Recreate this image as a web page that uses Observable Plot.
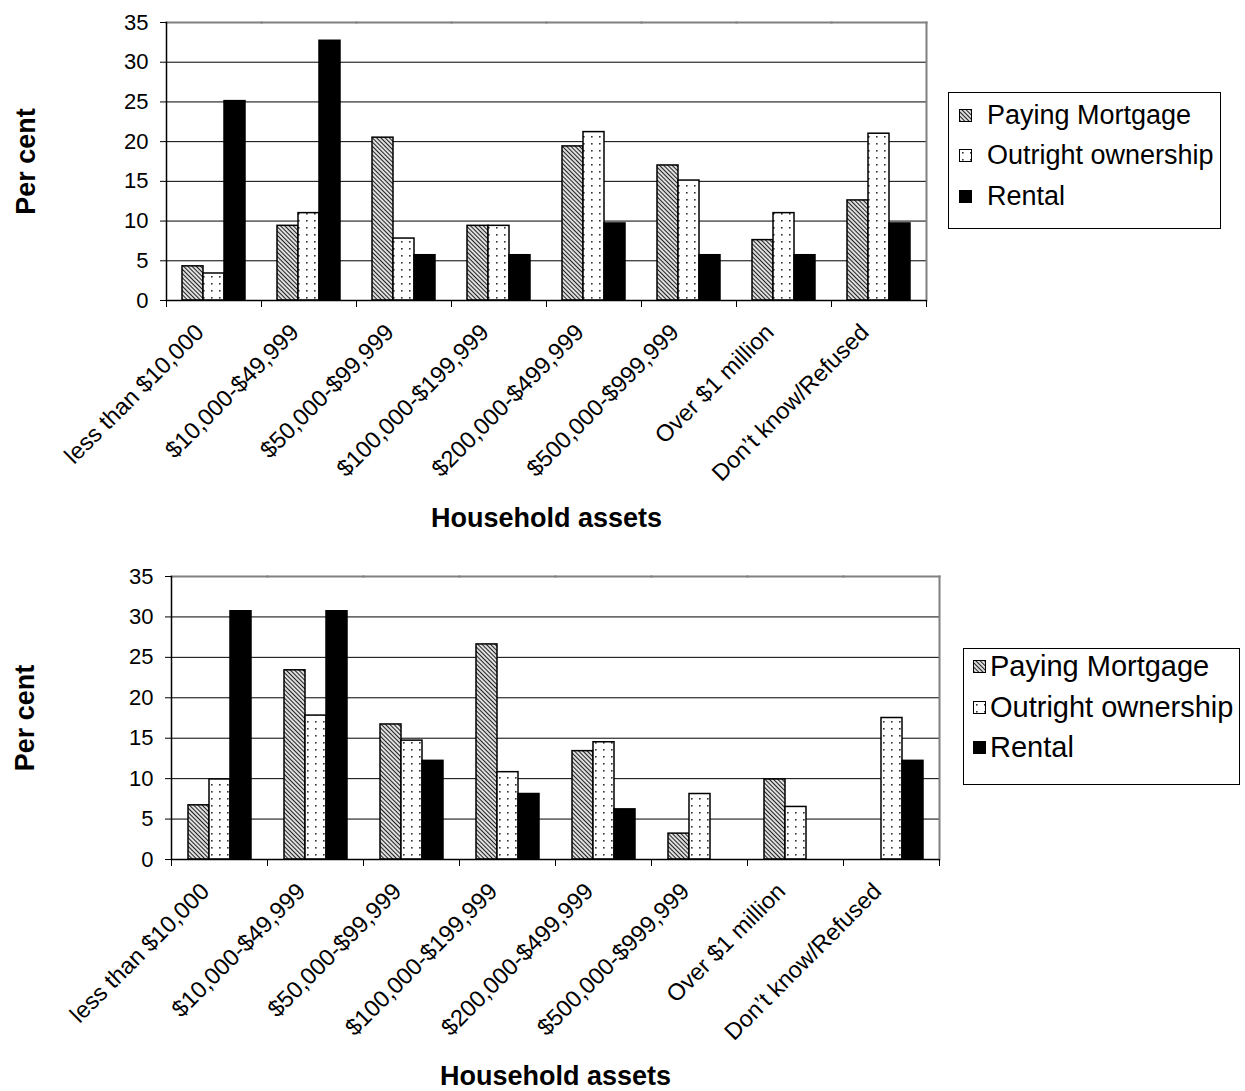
<!DOCTYPE html>
<html><head><meta charset="utf-8">
<script src="https://cdn.jsdelivr.net/npm/d3@7"></script>
<script src="https://cdn.jsdelivr.net/npm/@observablehq/plot@0.6"></script>
<style>
body{margin:0;background:#fff;font-family:'Liberation Sans',Arial,sans-serif;}
#wrap{position:relative;width:1245px;height:1091px;overflow:hidden;}
#wrap > div.chart{display:block;line-height:0}
#wrap svg{display:block}
g[aria-label="y-axis label"], g[aria-label="fx-axis label"]{font-size:27px;font-weight:bold;}
.legend{position:absolute;border:1px solid #000;background:#fff;box-sizing:border-box}
.legend .row{position:absolute;display:flex;align-items:center;white-space:nowrap;color:#000;height:40px}
.legend .row svg{display:block;flex:none}
</style></head>
<body>
<svg width="0" height="0" style="position:absolute">
  <defs>
    <pattern id="hatch" patternUnits="userSpaceOnUse" width="8" height="3" patternTransform="rotate(45)">
      <rect width="8" height="3" fill="#fff"/>
      <line x1="0" y1="1.5" x2="8" y2="1.5" stroke="#222" stroke-width="1.3"/>
    </pattern>
    <pattern id="dots" patternUnits="userSpaceOnUse" width="8" height="7">
      <rect width="8" height="7" fill="#fff"/>
      <rect x="3" y="3" width="1.6" height="1.6" fill="#333"/>
    </pattern>
  </defs>
</svg>
<div id="wrap"></div>
<script>
const categories = ["less than $10,000","$10,000-$49,999","$50,000-$99,999","$100,000-$199,999","$200,000-$499,999","$500,000-$999,999","Over $1 million","Don\u2019t know/Refused"];
const series = ["Paying Mortgage","Outright ownership","Rental"];
const yTicks = [0,5,10,15,20,25,30,35];

const topMortgage = [4.3, 9.4, 20.5, 9.4, 19.4, 17.0, 7.6, 12.6];
const topOutright = [3.4, 11.0, 7.8, 9.4, 21.2, 15.1, 11.0, 21.0];
const topRental   = [25.1, 32.7, 5.7, 5.7, 9.7, 5.7, 5.7, 9.7];

const botMortgage = [6.7, 23.4, 16.7, 26.6, 13.4, 3.2, 9.9, 0];
const botOutright = [9.9, 17.8, 14.7, 10.8, 14.5, 8.1, 6.5, 17.5];
const botRental   = [30.7, 30.7, 12.2, 8.1, 6.2, 0, 0, 12.2];

const fills = ["url(#hatch)", "url(#dots)", "#000"];

function toLong(m, o, r) {
  const out = [];
  categories.forEach((c, i) => {
    [m, o, r].forEach((arr, j) => {
      if (arr[i] > 0) out.push({cat: c, series: series[j], value: arr[i]});
    });
  });
  return out;
}

function chart({data, width, height, mt, mb, ml, mr, yLabelOffset, xLabelOffset}) {
  const ph = height - mt - mb;
  return Plot.plot({
    width, height, marginTop: mt, marginBottom: mb, marginLeft: ml, marginRight: mr,
    style: {fontFamily: "'Liberation Sans', Arial, sans-serif", fontSize: "22px", color: "#000", background: "transparent"},
    fx: {domain: categories, padding: 0},
    x: {domain: series, paddingInner: 0, paddingOuter: 0.75, axis: null},
    y: {domain: [0, 35]},
    color: {domain: series, range: fills},
    marks: [
      Plot.ruleY(yTicks.filter(t => t > 0 && t < 35), {stroke: "#000", strokeWidth: 1}),
      Plot.frame({anchor: "top", stroke: "#808080", strokeWidth: 2}),
      Plot.frame({anchor: "right", facetAnchor: "right", stroke: "#808080", strokeWidth: 2}),
      Plot.barY(data, {fx: "cat", x: "series", y: "value", fill: "series", stroke: "#000", strokeWidth: 1.5}),
      Plot.ruleY([0], {stroke: "#000", strokeWidth: 1.5}),
      Plot.frame({anchor: "left", facetAnchor: "left", stroke: "#000", strokeWidth: 1.5}),
      Plot.frame({anchor: "left", insetTop: ph, insetBottom: -6, stroke: "#000", strokeWidth: 1}),
      Plot.frame({anchor: "right", facetAnchor: "right", insetTop: ph, insetBottom: -6, stroke: "#000", strokeWidth: 1}),
      Plot.axisY({ticks: yTicks, tickSize: 6, tickPadding: 12, fontSize: 22, label: "Per cent", labelAnchor: "center", labelOffset: yLabelOffset, labelArrow: "none"}),
      Plot.axisFx({anchor: "bottom", tickRotate: -45, tickSize: 0, tickPadding: 31, fontSize: 23.5, dx: -14, dy: -3, label: null}),
      Plot.axisFx({anchor: "bottom", tickSize: 0, tickFormat: () => "", label: "Household assets", labelAnchor: "center", labelOffset: xLabelOffset, labelArrow: "none"})
    ]
  });
}

function legend({left, top, width, height, centers, swatchLeft, textLeft, fontSize}) {
  const box = document.createElement("div");
  box.className = "legend";
  Object.assign(box.style, {left: left + "px", top: top + "px", width: width + "px", height: height + "px"});
  series.forEach((s, i) => {
    const row = document.createElement("div");
    row.className = "row";
    Object.assign(row.style, {left: swatchLeft + "px", top: (centers[i] - 20) + "px", fontSize: fontSize + "px"});
    const sw = d3.create("svg").attr("width", 13).attr("height", 13).style("margin-right", (textLeft - swatchLeft - 13) + "px");
    sw.append("rect").attr("x", 0.5).attr("y", 0.5).attr("width", 12).attr("height", 12).attr("fill", fills[i]).attr("stroke", "#000");
    row.appendChild(sw.node());
    const t = document.createElement("span");
    t.textContent = s;
    row.appendChild(t);
    box.appendChild(row);
  });
  return box;
}

const wrap = document.getElementById("wrap");
const c1 = document.createElement("div"); c1.className = "chart";
c1.appendChild(chart({data: toLong(topMortgage, topOutright, topRental), width: 1245, height: 550, mt: 22, mb: 250, ml: 166, mr: 319, yLabelOffset: 151, xLabelOffset: 226}));
wrap.appendChild(c1);
const c2 = document.createElement("div"); c2.className = "chart";
c2.appendChild(chart({data: toLong(botMortgage, botOutright, botRental), width: 1245, height: 541, mt: 26, mb: 232, ml: 171, mr: 306, yLabelOffset: 157, xLabelOffset: 225}));
wrap.appendChild(c2);

wrap.appendChild(legend({left: 948, top: 92, width: 273, height: 137, centers: [22.5, 62, 103], swatchLeft: 10, textLeft: 38, fontSize: 27}));
wrap.appendChild(legend({left: 963, top: 648, width: 277, height: 137, centers: [17, 58, 98], swatchLeft: 9, textLeft: 26, fontSize: 29}));
</script>
</body></html>
